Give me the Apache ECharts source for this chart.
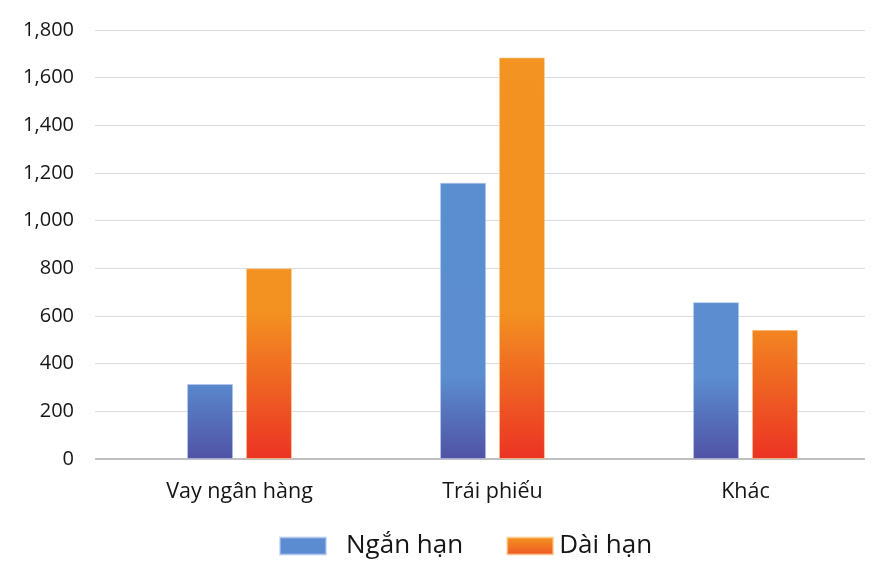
<!DOCTYPE html>
<html>
<head>
<meta charset="utf-8">
<script src="https://cdn.jsdelivr.net/npm/echarts@6/dist/echarts.min.js"></script>
<style>html,body{margin:0;padding:0;background:#fff;}#c{width:890px;height:564px;}</style>
</head>
<body>
<div id="c"></div>
<script>
const categories = ['Vay ngân hàng', 'Trái phiếu', 'Khác'];
const seriesNames = ['Ngắn hạn', 'Dài hạn'];
const shortTerm = [315, 1159, 658];
const longTerm = [800, 1685, 542];
const yTicks = [0, 200, 400, 600, 800, 1000, 1200, 1400, 1600, 1800];

const FONT = '"Open Sans", "Noto Sans", sans-serif';
const TXT = '#151515';
const chart = echarts.init(document.getElementById('c'));
const blueGrad = {type:'linear', x:0, y:0, x2:0, y2:459, global:true,
  colorStops:[{offset:0,color:'#5b8fd1'},{offset:0.82,color:'#5b8dd0'},{offset:1,color:'#5052a5'}]};
const orangeGrad = {type:'linear', x:0, y:0, x2:0, y2:459, global:true,
  colorStops:[{offset:0,color:'#f39321'},{offset:0.68,color:'#f39121'},{offset:1,color:'#eb3324'}]};
const yMin = yTicks[0], yMax = yTicks[yTicks.length-1], yInt = yTicks[1]-yTicks[0];

chart.setOption({
  animation:false,
  backgroundColor:'#fff',
  grid:[
    {left:95, right:25, top:30, bottom:105, containLabel:false},
    {left:113, right:18, top:30, bottom:105, containLabel:false}
  ],
  legend:{
    bottom:0, left:274, itemWidth:46, itemHeight:17, itemGap:43, icon:'rect',
    textStyle:{fontFamily:FONT, fontSize:26, color:TXT},
    data:[
      {name:seriesNames[0], itemStyle:{color:'#5b8bd0'}, textStyle:{padding:[0,0,0,15]}},
      {name:seriesNames[1], itemStyle:{color:{type:'linear',x:0,y:0,x2:0,y2:1,colorStops:[{offset:0,color:'#f5951f'},{offset:1,color:'#ee5524'}]}}, textStyle:{padding:[0,0,0,1]}}
    ]
  },
  xAxis:[
    {type:'value', gridIndex:0, show:false, min:0, max:1},
    {type:'category', gridIndex:1, data:categories,
      axisLine:{show:false}, axisTick:{show:false},
      axisLabel:{fontFamily:FONT, fontSize:21.5, color:TXT, margin:22}}
  ],
  yAxis:[
    {type:'value', gridIndex:0, min:yMin, max:yMax, interval:yInt,
      axisLine:{show:false}, axisTick:{show:false},
      axisLabel:{fontFamily:FONT, fontSize:20, color:TXT, margin:21,
        formatter:v=>v.toLocaleString('en-US')},
      splitLine:{lineStyle:{color:'#dcdcdc', width:1}}},
    {type:'value', gridIndex:1, min:yMin, max:yMax, interval:yInt, show:false}
  ],
  series:[
    {type:'line', xAxisIndex:0, yAxisIndex:0, data:[[0,0],[1,0]], symbol:'none', silent:true,
      lineStyle:{color:'#bfbfbf', width:2}, legendHoverLink:false, name:'_axis', z:1},
    {name:seriesNames[0], type:'bar', xAxisIndex:1, yAxisIndex:1, data:shortTerm,
      barWidth:46, barGap:'28%', itemStyle:{color:blueGrad, borderColor:'rgba(180,200,240,0.6)', borderWidth:1}, z:3},
    {name:seriesNames[1], type:'bar', xAxisIndex:1, yAxisIndex:1, data:longTerm,
      barWidth:46, barGap:'28%', itemStyle:{color:orangeGrad, borderColor:'rgba(250,210,150,0.6)', borderWidth:1}, z:3}
  ]
});
</script>
</body>
</html>
